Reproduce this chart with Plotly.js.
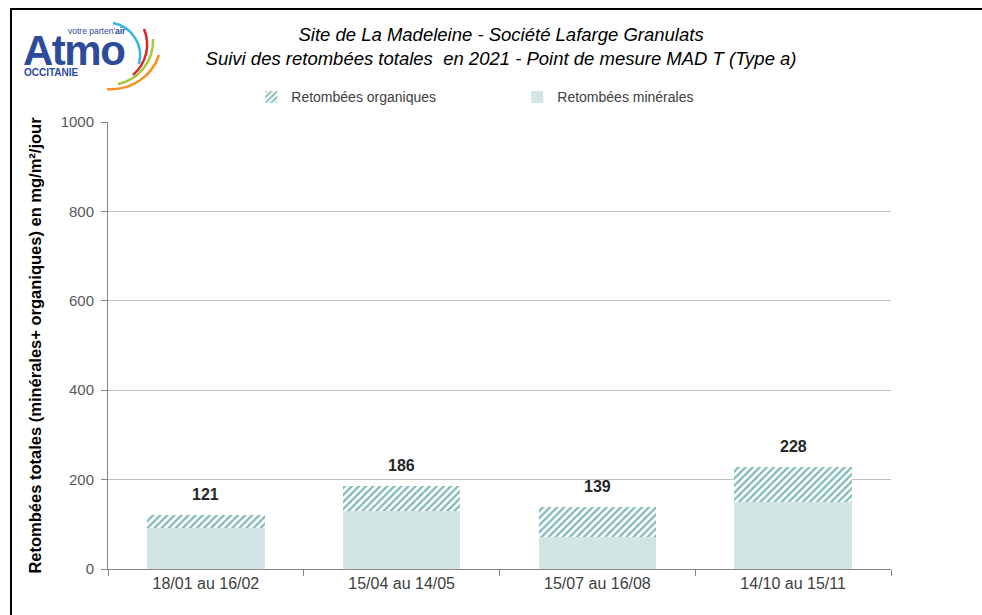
<!DOCTYPE html>
<html>
<head>
<meta charset="utf-8">
<script src="https://cdn.plot.ly/plotly-3.0.1.min.js"></script>
<style>
  html, body { margin: 0; padding: 0; background: #fff; }
  #wrap { position: relative; width: 982px; height: 615px; overflow: hidden; }
  #chart { position: absolute; left: 0; top: 0; width: 982px; height: 615px; }
  #frame { position: absolute; left: 10px; top: 8px; width: 990px; height: 640px;
           border-top: 2px solid #000; border-left: 2px solid #000; pointer-events: none; }
  #logo { position: absolute; left: 0; top: 0; pointer-events: none; }
</style>
</head>
<body>
<div id="wrap">
  <div id="chart"></div>
  <div id="frame"></div>
  <svg id="logo" width="200" height="100" xmlns="http://www.w3.org/2000/svg">
    <text x="68" y="34" font-family="Liberation Sans, Arial, sans-serif" font-size="8.5" fill="#2d4b9b">votre parten'<tspan font-weight="bold">air</tspan></text>
    <text x="23" y="65" font-family="Liberation Sans, Arial, sans-serif" font-size="42" font-weight="bold" fill="#2d4b9b" letter-spacing="-1.5">Atmo</text>
    <text x="24" y="76" font-family="Liberation Sans, Arial, sans-serif" font-size="10" font-weight="bold" fill="#2d4b9b">OCCITANIE</text>
    <path d="M113,23 A33,33 0 0 1 139,64" fill="none" stroke="#33b5e5" stroke-width="2.5"/>
    <path d="M144,29 A40,40 0 0 1 133,75" fill="none" stroke="#d7282f" stroke-width="2.5"/>
    <path d="M153,39 A44,44 0 0 1 118,84" fill="none" stroke="#a6c83a" stroke-width="2.5"/>
    <path d="M159,55 A50,50 0 0 1 107,89" fill="none" stroke="#f39223" stroke-width="2.5"/>
  </svg>
</div>
<script>
var categories = ["18/01 au 16/02", "15/04 au 14/05", "15/07 au 16/08", "14/10 au 15/11"];
var mineral = [91, 130, 72, 150];
var organic = [30, 56, 67, 78];
var totals = [121, 186, 139, 228];
var yTicks = [0, 200, 400, 600, 800, 1000];

var sans = '"Liberation Sans", Arial, sans-serif';

var traces = [
  {
    type: 'bar', name: 'Retombées minérales', x: categories, y: mineral,
    marker: { color: '#d2e5e4', line: { width: 0 } },
    hoverinfo: 'y'
  },
  {
    type: 'bar', name: 'Retombées organiques', x: categories, y: organic,
    marker: { color: '#ffffff', line: { width: 0 },
      pattern: { shape: '/', fgcolor: '#7cbab7', bgcolor: '#ffffff', size: 5, solidity: 0.45 } },
    hoverinfo: 'y'
  }
];

var annotations = categories.map(function (c, i) {
  return {
    x: c, y: totals[i], xref: 'x', yref: 'y', text: String(totals[i]),
    showarrow: false, yanchor: 'bottom', yshift: 10,
    font: { family: sans, size: 16, color: '#262626', weight: 'bold' }
  };
});

var layout = {
  width: 982, height: 615,
  margin: { l: 108, r: 91, t: 122, b: 46, pad: 0 },
  paper_bgcolor: '#ffffff', plot_bgcolor: '#ffffff',
  barmode: 'stack', bargap: 0.4,
  showlegend: true,
  legend: {
    orientation: 'h', x: 0.183, xanchor: 'left', y: 1.055, yanchor: 'middle',
    traceorder: 'reversed', entrywidth: 221, entrywidthmode: 'pixels',
    font: { family: sans, size: 14, color: '#404040' }, bgcolor: 'rgba(0,0,0,0)'
  },
  title: {
    text: '<i>Site de La Madeleine - Société Lafarge Granulats<br>Suivi des retombées totales  en 2021 - Point de mesure MAD T (Type a)</i>',
    x: 0.502, xanchor: 'center', xref: 'paper', y: 0.933, yanchor: 'middle',
    font: { family: sans, size: 18.5, color: '#000000' }
  },
  xaxis: {
    type: 'category', showgrid: false, showline: true, linecolor: '#868686', linewidth: 1,
    ticks: 'outside', tickson: 'boundaries', ticklen: 6, tickcolor: '#868686',
    tickfont: { family: sans, size: 16, color: '#404040' }
  },
  yaxis: {
    range: [0, 1000], tickvals: yTicks, ticktext: yTicks.map(String),
    showgrid: true, gridcolor: '#c0c0c0', gridwidth: 1, zeroline: false,
    showline: true, linecolor: '#868686', linewidth: 1,
    ticks: 'outside', ticklen: 6, tickcolor: '#868686', ticklabelstandoff: 4,
    tickfont: { family: sans, size: 15, color: '#595959' },
    title: { text: 'Retombées totales (minérales+ organiques) en mg/m²/jour', standoff: 14,
      font: { family: sans, size: 16.5, color: '#000000', weight: 'bold' } }
  },
  annotations: annotations
};

Plotly.newPlot('chart', traces, layout, { displayModeBar: false, staticPlot: true });
</script>
</body>
</html>
